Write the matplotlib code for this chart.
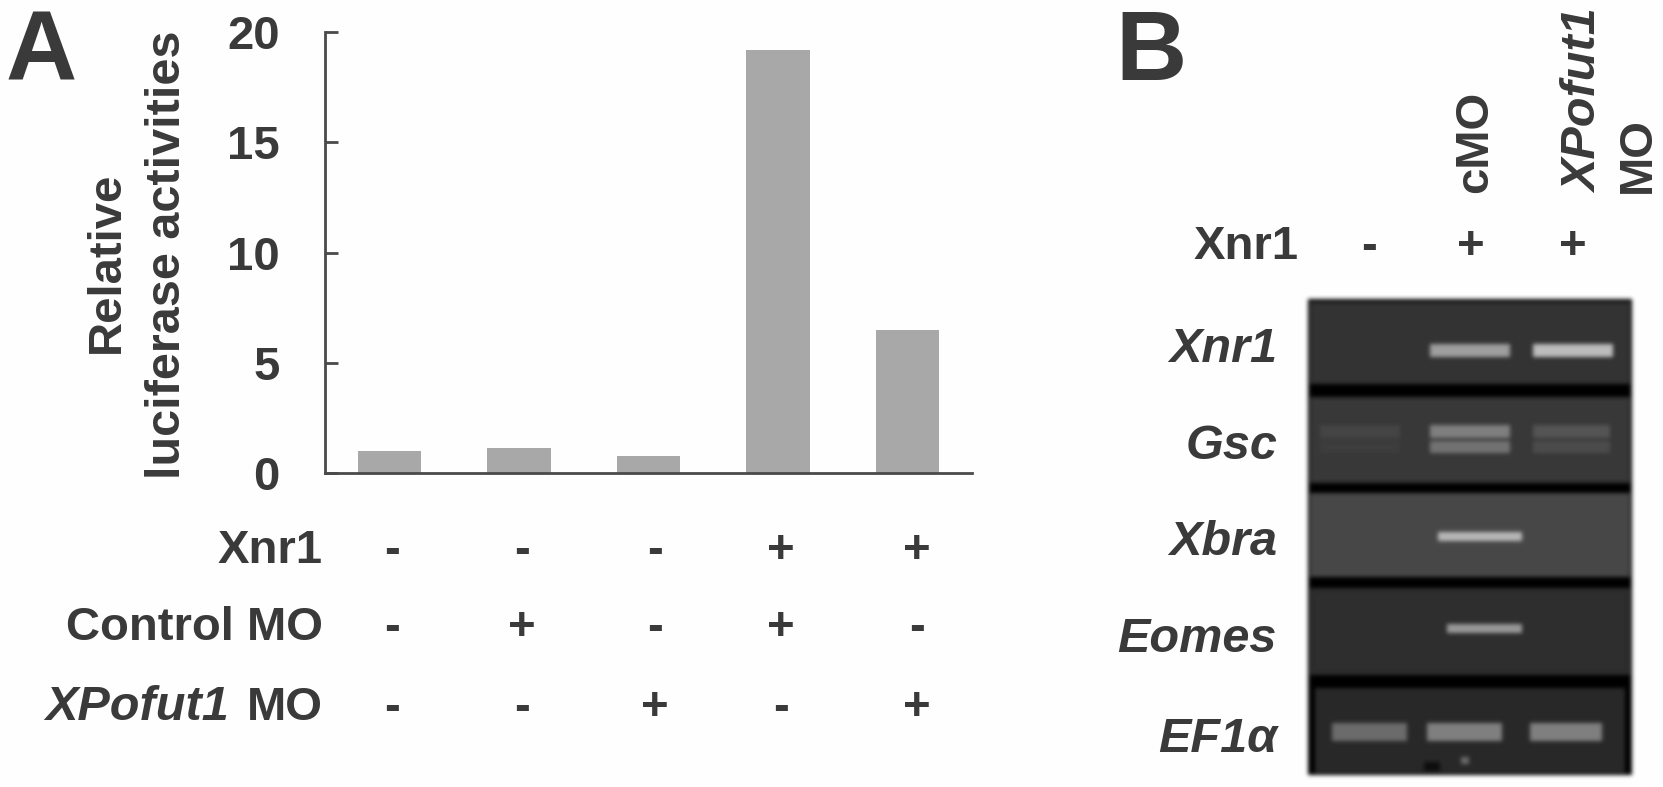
# Luciferase bars (A) and RT-PCR gel (B)
import numpy as np
import matplotlib
matplotlib.use("Agg")
import matplotlib.pyplot as plt

plt.rcParams["font.family"] = ["Liberation Sans", "DejaVu Sans"]
plt.rcParams["font.weight"] = "bold"

W, H = 1663, 787
INK = "#3a3a3a"

# panel A
activity = [1.0, 1.15, 0.75, 19.2, 6.5]
y_ticks = [0, 5, 10, 15, 20]
treat_names = ["Xnr1", "Control MO", "XPofut1 MO"]
xnr1_signs = ["-", "-", "-", "+", "+"]
control_signs = ["-", "+", "-", "+", "-"]
xpofut_signs = ["-", "-", "+", "-", "+"]

# panel B
lane_heads = ["cMO", "XPofut1", "MO"]
gel_signs = ["-", "+", "+"]
genes = ["Xnr1", "Gsc", "Xbra", "Eomes", "EF1α"]
gel_back = [0.20, 0.22, 0.28, 0.18, 0.16]
xnr1_bands = [0.0, 0.62, 0.74]
gsc_bands = [0.27, 0.50, 0.33]
xbra_bands = [0.0, 0.72, 0.0]
eomes_bands = [0.0, 0.60, 0.0]
ef1a_bands = [0.42, 0.50, 0.50]


def add_axes_px(left, top, right, bottom):
    return fig.add_axes([left / W, 1 - bottom / H, (right - left) / W, (bottom - top) / H])


fig = plt.figure(figsize=(W / 100, H / 100), dpi=100, facecolor="#fefefe")

# bars
ax = add_axes_px(325, 32, 972, 473)
ax.bar(np.arange(5) + 0.5, activity, width=0.49, color="#a8a8a8")
ax.set_xlim(0, 5)
ax.set_ylim(0, 20)
ax.set_yticks(y_ticks)
ax.set_xticks([])
ax.tick_params(axis="y", direction="in", length=9.5, width=2.0, color="#4a4a4a",
               pad=32.5, labelsize=34, labelcolor=INK)
for side in ["top", "right"]:
    ax.spines[side].set_visible(False)
for side in ["left", "bottom"]:
    ax.spines[side].set_color("#4a4a4a")
    ax.spines[side].set_linewidth(2.0)
ax.patch.set_alpha(0)

# gel, built as a small greyscale picture
row_edges = [(302, 384), (397, 483), (493, 577), (588, 675), (688, 773)]
lane_edges = [[(1320, 1400), (1430, 1510), (1533, 1613)],
              [(1320, 1400), (1430, 1510), (1533, 1610)],
              [(1320, 1400), (1438, 1522), (1533, 1610)],
              [(1320, 1400), (1447, 1522), (1533, 1610)],
              [(1332, 1407), (1427, 1502), (1530, 1602)]]
band_edges = [[(344, 357)], [(425, 438), (441, 453)], [(532, 541)], [(624, 633)], [(723, 741)]]
band_values = [xnr1_bands, gsc_bands, xbra_bands, eomes_bands, ef1a_bands]

x0, y0, x1, y1 = 1300, 290, 1640, 784
gel = np.full((y1 - y0, x1 - x0), 0.996)
gel[299 - y0:775 - y0, 1308 - x0:1632 - x0] = 0.0
for r, (top, bottom) in enumerate(row_edges):
    inset = 7 if r == 4 else 2
    gel[top - y0:bottom - y0, 1308 + inset - x0:1632 - inset - x0] = gel_back[r]
    for lane, value in enumerate(band_values[r]):
        if value == 0:
            continue
        left, right = lane_edges[r][lane]
        for k, (b_top, b_bot) in enumerate(band_edges[r]):
            level = value * (0.9 if k else 1.0)
            gel[b_top - y0:b_bot - y0, left - x0:right - x0] = level

# speck at the foot of the last row
gel[757 - y0:764 - y0, 1461 - x0:1469 - x0] = 0.42
gel[762 - y0:771 - y0, 1424 - x0:1440 - x0] = 0.05

kernel = np.exp(-np.linspace(-2, 2, 13) ** 2)
kernel /= kernel.sum()
for axis in (0, 1):
    gel = np.apply_along_axis(lambda v: np.convolve(np.pad(v, 6, mode="edge"), kernel, "valid"), axis, gel)

ax_gel = add_axes_px(x0, y0, x1, y1)
ax_gel.imshow(gel, cmap="gray", vmin=0, vmax=1, aspect="auto", interpolation="bilinear")
ax_gel.axis("off")

# overlay in pixel units for all the loose labels
ov = fig.add_axes([0, 0, 1, 1])
ov.set_xlim(0, W)
ov.set_ylim(H, 0)
ov.axis("off")
ov.patch.set_alpha(0)


def put(x, y, s, size=34, ha="center", va="baseline", rot=0, style="normal"):
    ov.text(x, y, s, fontsize=size, ha=ha, va=va, rotation=rot, style=style, color=INK,
            rotation_mode="anchor")


put(6, 80, "A", size=71, ha="left")
put(1115, 80, "B", size=71, ha="left")
ov.text(107, 262, "Relative", fontsize=34, rotation=90, ha="center", va="center", color=INK)
ov.text(168, 255, "luciferase activities", fontsize=35, rotation=90, ha="center", va="center", color=INK)

# treatment table under the bars
sign_rows = [xnr1_signs, control_signs, xpofut_signs]
row_base = [563, 640, 720]
sign_x = [392, 522, 655, 781, 917]
for name, signs, base in zip(treat_names, sign_rows, row_base):
    if name.endswith("1 MO"):
        # only the gene name is italic
        gene_part, mo_part = name.split(" ")
        put(323, base, mo_part, ha="right")
        put(229, base, gene_part, size=35, ha="right", style="italic")
    else:
        put(323, base, name, ha="right")
    for x, s in zip(sign_x, signs):
        put(x, base, s)

# panel B headers
put(1299, 259, "Xnr1", ha="right")
for x, s in zip([1369, 1471, 1573], gel_signs):
    put(x, 259, s)
put(1487, 193, lane_heads[0], ha="left", rot=90)
put(1597, 193, lane_heads[1], size=35, ha="left", rot=90, style="italic")
put(1650, 193, lane_heads[2], ha="left", rot=90)

# gene labels
for gene, base in zip(genes, [362, 459, 555, 652, 752]):
    put(1277, base, gene, size=35, ha="right", style="italic")

fig.savefig("out.png", dpi=100, facecolor=fig.get_facecolor())
